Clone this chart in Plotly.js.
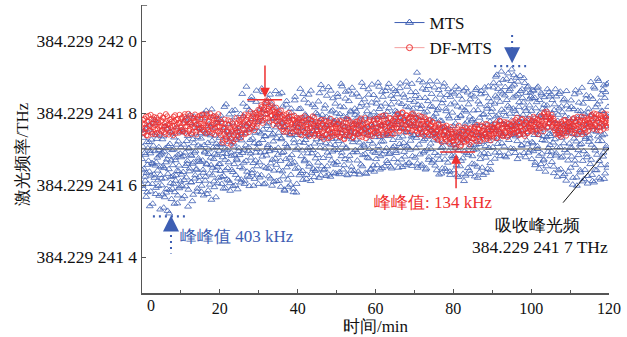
<!DOCTYPE html>
<html><head><meta charset="utf-8">
<script src="https://cdn.plot.ly/plotly-3.0.1.min.js"></script>
<style>html,body{margin:0;padding:0;background:#fff}#chart{width:627px;height:337px}</style>
</head><body><div id="chart"></div>
<script>
// Laser frequency in kHz above 384.229 241 000 THz.
// Each record is stored as two interleaved halves: samples A at t = i*step, samples B at t = i*step + step/2.
const mtsStepMin = 1/6;
const dfmtsStepMin = 0.25;

const mtsKHzA = [
672,598,731,645,689,612,754,633,580,702,667,719,541,688,626,745,603,658,771,620,694,575,663,728,640,597,705,682,532,651,
618,690,574,735,647,566,702,663,589,757,631,680,521,714,605,668,743,590,625,699,548,676,612,760,639,571,721,654,596,687,
705,629,562,748,681,614,779,653,596,722,667,540,701,638,795,684,607,741,659,573,716,690,627,768,645,582,733,674,611,757,
664,729,598,785,642,571,711,690,623,806,657,744,585,699,632,762,676,559,723,648,791,610,687,737,566,706,651,774,620,695,
712,639,781,603,688,752,625,817,670,591,734,698,647,769,612,720,584,743,681,806,636,707,658,788,599,726,673,749,618,694,
731,650,797,615,744,689,826,662,603,768,710,873,637,752,694,809,622,725,676,845,641,783,598,716,759,668,831,700,629,775,
748,663,812,690,627,779,725,858,651,736,604,797,682,764,711,839,645,753,618,701,824,670,742,609,786,697,861,656,730,768,
703,852,641,776,595,730,689,818,624,761,584,745,672,833,707,615,790,658,740,601,812,683,757,590,726,663,845,698,579,771,
762,648,811,719,867,633,778,696,614,749,837,670,725,792,628,756,703,851,659,782,611,741,688,823,645,768,715,639,800,727,
759,683,832,620,774,719,878,652,795,736,641,812,701,766,625,848,690,751,629,785,713,862,668,742,807,634,773,698,826,656,
781,664,845,722,630,797,753,881,690,768,643,816,736,672,859,704,789,627,758,833,681,744,802,651,870,719,776,639,812,697,
726,854,668,790,741,629,817,703,765,884,652,779,712,838,686,754,631,805,745,866,674,722,793,645,829,761,693,850,637,771,
788,672,837,749,884,696,811,643,766,721,859,685,794,738,652,826,773,702,870,661,757,813,690,741,848,646,779,725,866,708,
742,861,689,803,767,648,829,714,882,756,671,797,735,851,692,776,655,818,748,873,704,785,662,836,723,769,881,680,812,739,
795,676,858,731,912,648,787,712,842,766,653,820,744,885,690,801,728,643,864,757,699,833,670,779,888,715,752,662,817,745,
726,871,654,798,740,887,682,813,629,765,851,703,778,646,836,719,882,671,757,805,638,743,866,694,785,628,824,710,859,676,
764,641,829,702,873,655,786,735,622,848,716,791,667,815,748,631,862,693,770,626,804,729,857,684,752,640,838,711,779,659,
783,698,846,624,767,712,869,651,808,739,635,824,685,861,720,772,628,797,743,855,676,734,812,645,874,703,788,661,831,752,
812,705,884,759,673,848,791,906,728,867,752,690,831,778,915,716,854,742,803,681,872,767,895,735,820,687,861,798,744,889,
921,761,843,700,879,806,735,898,772,672,852,817,740,903,785,711,866,754,829,689,883,768,806,724,871,747,690,838,793,857,
778,672,841,716,862,739,655,813,761,869,700,794,681,836,748,658,851,725,787,668,823,754,637,809,733,866,692,771,846,711,
736,852,664,799,718,633,824,757,682,846,705,778,641,813,749,859,676,731,802,625,768,839,697,754,612,821,743,668,786,715,
762,648,817,703,601,784,729,852,656,775,621,739,806,683,857,712,635,791,748,610,826,694,768,642,733,849,677,604,801,720,
774,658,886,712,628,839,751,607,868,696,783,641,824,735,889,667,760,615,851,722,805,679,877,741,632,858,708,791,655,883
];
const mtsKHzB = [
641,706,589,752,623,684,567,719,656,603,768,637,695,582,726,661,548,709,629,781,654,592,738,676,613,697,570,743,628,685,
599,727,652,537,693,618,764,579,671,528,708,644,586,749,622,561,697,655,603,732,580,669,627,712,549,684,638,591,746,610,
677,598,754,636,712,569,690,785,621,659,736,587,703,646,772,608,681,555,727,663,790,618,695,642,758,590,710,668,623,744,
706,581,752,668,634,798,693,612,741,659,575,717,686,769,601,738,655,810,627,704,672,594,759,641,715,683,605,781,658,731,
658,793,622,714,677,590,759,701,641,824,686,615,747,663,796,605,729,690,642,773,597,715,684,808,628,755,669,588,737,702,
683,762,607,724,853,646,791,698,612,743,667,817,626,771,705,597,756,688,836,633,729,661,798,617,745,690,862,652,714,603,
716,621,787,743,868,679,754,602,808,692,735,647,829,706,771,624,694,851,660,738,598,783,721,640,815,673,760,611,795,684,
745,612,799,667,727,856,638,773,692,587,761,714,823,649,702,595,784,676,738,628,801,660,747,580,716,835,645,768,603,739,
702,785,627,744,812,680,759,639,853,717,666,796,735,617,774,688,827,651,739,705,862,634,781,697,750,622,816,674,761,643,
796,662,741,855,704,627,783,730,866,675,759,644,821,716,789,652,735,872,681,767,623,804,728,693,841,660,776,711,632,799,
729,853,697,773,636,818,744,680,874,712,791,655,762,840,701,629,784,733,862,668,749,806,640,727,851,691,768,630,795,746,
804,691,763,637,845,718,776,657,827,749,683,872,707,791,634,759,821,676,738,851,700,788,642,767,879,715,654,802,733,689,
741,826,655,790,708,873,733,680,818,763,647,845,721,789,694,861,742,667,803,736,881,686,769,651,824,758,704,839,672,795,
806,695,775,852,662,788,731,869,703,758,825,650,784,717,843,679,766,887,709,747,660,816,773,698,858,735,653,796,764,831,
738,847,702,779,660,823,756,891,685,811,740,657,868,723,786,694,842,767,646,804,734,875,677,759,819,700,853,738,668,790,
783,689,838,752,641,808,723,864,670,779,746,632,827,706,873,688,761,645,812,737,850,662,791,718,637,845,753,681,801,730,
712,854,680,771,745,627,818,697,866,741,652,793,724,837,674,758,611,808,732,869,689,776,647,824,706,790,631,851,743,680,
728,807,657,772,864,699,746,620,832,714,787,672,852,737,648,795,761,689,871,708,634,819,753,686,841,722,776,642,803,767,
758,871,732,826,690,901,777,843,714,795,882,746,680,860,809,735,892,768,707,849,791,677,836,760,910,725,815,866,702,779,
874,739,812,905,766,689,848,797,722,887,751,830,682,861,774,709,842,795,897,740,813,677,856,782,713,874,760,821,698,846,
806,719,863,694,777,842,662,751,830,708,873,739,645,799,765,856,687,812,736,671,844,723,789,652,821,760,703,858,742,680,
781,693,836,749,651,808,727,866,688,770,623,795,741,853,705,644,818,762,679,835,716,630,791,746,861,690,772,637,810,752,
704,835,679,759,620,811,742,668,863,721,598,786,697,829,753,641,805,714,870,667,744,616,797,728,839,685,760,625,812,738,
729,846,670,795,611,761,873,703,642,816,748,684,895,722,620,832,771,655,806,738,864,690,617,842,763,702,880,648,817,789
];

const dfmtsKHzA = [
752,781,744,769,790,758,737,776,763,795,748,771,782,741,767,787,755,773,739,764,
779,753,786,762,741,774,791,757,769,746,783,765,738,777,794,751,768,784,745,772,
760,788,749,775,797,763,742,781,770,756,792,767,747,785,761,776,740,789,766,754,
783,759,796,771,748,787,765,793,754,778,799,762,744,786,769,757,791,773,750,780,
762,738,771,725,756,782,733,748,716,767,741,777,729,754,721,763,745,786,736,758,
749,775,731,766,789,752,741,780,763,794,747,772,785,758,798,769,776,801,761,788,
779,806,791,817,772,809,826,785,835,798,812,777,821,794,808,767,803,789,815,776,
798,764,789,807,771,755,794,779,748,786,769,801,758,774,790,745,781,766,753,787,
772,748,785,759,738,776,764,791,745,768,756,782,735,761,779,750,770,787,742,766,
749,773,737,760,781,744,765,728,758,776,741,769,753,732,784,757,746,771,739,762,
768,741,759,779,733,754,747,772,727,762,783,745,756,738,775,750,764,731,770,748,
757,776,742,763,735,785,751,769,744,758,730,773,761,748,781,739,766,754,778,745,
771,749,784,760,738,775,765,792,746,769,755,781,740,773,787,752,766,743,779,758,
765,789,758,798,776,751,785,769,802,760,781,747,794,773,756,788,767,797,752,780,
776,752,786,763,741,779,758,790,748,770,737,765,783,746,772,755,738,768,751,774,
757,733,764,748,726,771,741,754,719,760,738,750,728,765,735,744,715,753,730,747,
724,742,703,735,758,719,747,730,711,753,736,722,761,740,727,749,733,756,718,744,
752,729,761,740,721,757,745,733,766,738,750,726,759,743,735,768,748,731,762,741,
737,760,744,771,753,731,765,748,777,740,758,735,769,751,744,774,757,738,763,749,
766,743,772,754,781,747,762,738,775,759,750,784,742,768,756,773,745,763,779,751,
760,777,748,769,786,755,773,741,780,764,792,758,771,797,766,783,804,761,788,774,
779,795,767,784,752,773,761,745,770,738,757,776,742,765,750,781,737,763,754,772,
758,777,743,769,786,752,765,740,781,761,774,748,790,766,757,779,745,771,784,760,
782,763,795,771,756,788,769,797,760,785,774,751,792,778,765,799,772,787,759,781
];
const dfmtsKHzB = [
770,747,784,759,738,776,792,751,766,783,742,761,789,754,775,745,780,762,793,749,
763,788,746,771,797,755,767,740,782,760,776,749,790,764,743,781,758,773,795,752,
784,753,771,790,745,779,763,798,750,774,741,787,759,778,796,748,768,783,757,793,
770,794,752,766,781,743,797,760,775,747,788,768,755,791,740,772,784,762,797,745,
749,775,718,760,741,769,727,752,780,735,758,712,749,771,738,757,727,770,748,781,
768,740,782,757,774,796,745,766,788,771,755,803,779,763,790,752,784,795,770,809,
797,784,822,801,779,815,796,829,807,786,818,803,792,828,781,810,795,777,801,790,
781,803,760,792,775,748,785,765,797,756,777,790,744,768,782,759,793,772,749,778,
759,781,740,768,787,752,773,746,779,762,739,784,757,770,745,791,764,736,775,754,
766,742,778,755,734,770,750,781,739,764,753,730,774,747,767,736,760,778,745,757,
746,770,735,758,777,742,763,729,751,774,740,760,781,737,756,768,733,759,744,775,
769,741,758,780,748,765,733,771,755,786,743,762,738,776,751,768,736,760,783,747,
758,784,744,770,790,753,767,739,778,762,794,750,772,745,764,785,756,771,741,776,
783,760,795,770,748,788,775,801,757,779,766,793,754,786,771,745,790,763,799,768,
761,785,749,771,793,754,768,742,779,763,788,750,775,759,740,781,765,752,776,745,
743,759,731,752,768,737,746,724,758,741,763,733,749,722,756,739,728,761,742,721,
731,712,749,725,741,765,733,707,744,728,752,719,738,757,724,745,712,741,760,729,
739,758,725,748,767,736,755,722,746,763,731,752,741,770,728,756,739,750,724,760,
755,741,768,749,730,762,756,779,743,767,738,759,775,746,761,733,770,752,742,766,
753,777,745,766,758,787,749,770,741,763,781,752,767,736,776,760,744,784,757,770,
772,754,790,761,775,745,782,768,757,788,765,779,749,802,776,790,759,797,771,785,
787,761,779,758,771,741,766,752,745,762,734,771,756,780,743,768,759,749,775,762,
770,751,783,762,745,776,757,790,769,748,779,762,741,773,788,753,767,780,750,774,
769,791,762,780,799,766,784,753,777,794,760,786,770,783,756,791,778,764,796,773
];

const yTickVals = [400, 600, 800, 1000];
const yTickText = ['384.229 241 4', '384.229 241 6', '384.229 241 8', '384.229 242 0'];
const xTickVals = [20, 40, 60, 80, 100, 120];
const xTickText = ['20', '40', '60', '80', '100', '120'];
const absorptionPeakKHz = 700;
const seriesNames = ['MTS', 'DF-MTS'];

function merge(a, b, step) {
  const x = [], y = [];
  for (let i = 0; i < a.length; i++) {
    x.push(i * step); y.push(a[i]);
    if (i < b.length) { x.push(i * step + step / 2); y.push(b[i]); }
  }
  return {x, y};
}
const mts = merge(mtsKHzA, mtsKHzB, mtsStepMin);
const dfmts = merge(dfmtsKHzA, dfmtsKHzB, dfmtsStepMin);

const BLUE = '#3d5eb3', RED = '#ee3030';
const FONT = '"Liberation Serif", "Times New Roman", "DejaVu Serif", serif';

const traces = [
  {x: mts.x, y: mts.y, type: 'scatter', mode: 'markers', showlegend: false,
   marker: {symbol: 'triangle-up-open', size: 6, color: BLUE, line: {width: 0.8}}},
  {x: dfmts.x, y: dfmts.y, type: 'scatter', mode: 'markers', showlegend: false,
   marker: {symbol: 'circle-open', size: 5, color: RED, line: {width: 0.8}}},
  {x: [null], y: [null], type: 'scatter', mode: 'lines+markers', name: seriesNames[0],
   line: {color: BLUE, width: 1}, marker: {symbol: 'triangle-up-open', size: 7, color: BLUE}},
  {x: [null], y: [null], type: 'scatter', mode: 'lines+markers', name: seriesNames[1],
   line: {color: '#f4a0a0', width: 1}, marker: {symbol: 'circle-open', size: 6, color: RED}}
];

const dotted = '2px,4px';
const shapes = [
  {type: 'line', xref: 'x', yref: 'y', x0: 0, x1: 120, y0: absorptionPeakKHz, y1: absorptionPeakKHz, line: {color: '#555', width: 1.2}, layer: 'above'},
  {type: 'line', xref: 'x', yref: 'y', x0: 0, x1: 1.3, y0: 1100, y1: 1100, line: {color: '#555', width: 1.5}},
  {type: 'line', x0: 27, x1: 36, y0: 837, y1: 837, line: {color: RED, width: 1.5}},
  {type: 'line', x0: 76.6, x1: 85.6, y0: 692, y1: 692, line: {color: RED, width: 1.5}},
  {type: 'line', x0: 95.1, x1: 95.1, y0: 1017, y1: 968, line: {color: BLUE, width: 2, dash: dotted}},
  {type: 'line', x0: 90.5, x1: 98.7, y0: 930, y1: 930, line: {color: BLUE, width: 2.2, dash: dotted}},
  {type: 'line', x0: 7.45, x1: 7.45, y0: 478, y1: 410, line: {color: BLUE, width: 2, dash: dotted}},
  {type: 'line', x0: 2.8, x1: 11.6, y0: 513, y1: 513, line: {color: BLUE, width: 2.2, dash: dotted}},
  {type: 'line', x0: 108.2, x1: 120, y0: 551, y1: 703, line: {color: '#111', width: 1}}
];

const annotations = [
  {x: 31.6, y: 843, ax: 31.6, ay: 936, axref: 'x', ayref: 'y', text: '', showarrow: true, arrowhead: 2, arrowsize: 1.3, arrowwidth: 1.5, arrowcolor: RED},
  {x: 80.7, y: 686, ax: 80.7, ay: 587, axref: 'x', ayref: 'y', text: '', showarrow: true, arrowhead: 2, arrowsize: 1.3, arrowwidth: 1.5, arrowcolor: RED},
  {x: 95.1, y: 938, ax: 0, ay: -10, text: '', showarrow: true, arrowhead: 2, arrowsize: 1.6, arrowwidth: 2, arrowcolor: BLUE},
  {x: 7.45, y: 515, ax: 0, ay: 12, text: '', showarrow: true, arrowhead: 2, arrowsize: 1.6, arrowwidth: 2, arrowcolor: BLUE},
  {x: 24.3, y: 457, text: '峰峰值 403 kHz', showarrow: false, font: {family: FONT, size: 17, color: BLUE}},
  {x: 75, y: 551, text: '峰峰值: 134 kHz', showarrow: false, font: {family: FONT, size: 17, color: RED}},
  {x: 101.5, y: 488, text: '吸收峰光频', showarrow: false, font: {family: FONT, size: 17, color: '#111'}},
  {x: 102.3, y: 427, text: '384.229 241 7 THz', showarrow: false, font: {family: FONT, size: 17.5, color: '#111'}},
  {x: 2.2, y: 0, xref: 'x', yref: 'paper', yanchor: 'top', yshift: -2, text: '0', showarrow: false, font: {family: FONT, size: 16, color: '#111'}},
  {x: -0.255, y: 0.484, xref: 'paper', yref: 'paper', xanchor: 'center', yanchor: 'middle', textangle: -90,
   text: '激光频率/THz', showarrow: false, font: {family: FONT, size: 17, color: '#111'}}
];

const layout = {
  width: 627, height: 337,
  margin: {l: 142, r: 18, t: 5, b: 44},
  paper_bgcolor: '#fff', plot_bgcolor: '#fff',
  font: {family: FONT, size: 16, color: '#111'},
  showlegend: true,
  legend: {x: 0.53, y: 1.0, xanchor: 'left', yanchor: 'top', bgcolor: 'rgba(0,0,0,0)', font: {family: FONT, size: 17, color: '#111'}, tracegroupgap: 0},
  xaxis: {range: [0, 120], tickvals: xTickVals, ticktext: xTickText, ticks: 'inside', ticklen: 4, tickcolor: '#555',
    minor: {ticks: 'inside', ticklen: 3, dtick: 10, tick0: 0, tickcolor: '#555'},
    showline: true, linecolor: '#555', linewidth: 1.5, showgrid: false, zeroline: false,
    tickfont: {family: FONT, size: 16, color: '#111'},
    title: {text: '时间/min', font: {family: FONT, size: 17, color: '#111'}, standoff: 2}},
  yaxis: {range: [300, 1100], tickvals: yTickVals, ticktext: yTickText, ticks: 'inside', ticklen: 4, tickcolor: '#555',
    showline: true, linecolor: '#555', linewidth: 1.5, showgrid: false, zeroline: false,
    tickfont: {family: FONT, size: 17.5, color: '#111'}},
  shapes: shapes,
  annotations: annotations
};

Plotly.newPlot('chart', traces, layout, {displayModeBar: false, staticPlot: true});
</script>
</body></html>
